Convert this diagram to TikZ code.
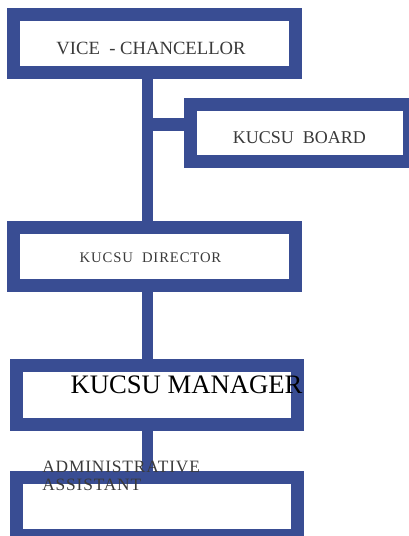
\documentclass[tikz,border=0pt]{standalone}
\usepackage{fontspec}
\setmainfont{Liberation Serif}
\usepackage{tikz}
\usetikzlibrary{calc}
\definecolor{xanhvien}{RGB}{57,77,147}
\definecolor{chuxam}{RGB}{58,58,58}
\tikzset{
	hop/.style={draw=xanhvien, line width=9.75pt, fill=white, inner sep=0pt},
	noi/.style={draw=xanhvien, line width=8.25pt},
	chu/.style={text=chuxam, inner sep=0pt, anchor=base}
}

\begin{document}
\begin{tikzpicture}[x=0.75pt, y=-0.75pt]
	\useasboundingbox (0,0) rectangle (408,536);
	\node[hop, minimum width=211.5pt, minimum height=43.5pt] (vc) at (154.5,43.5) {};
	\node[hop, minimum width=164.25pt, minimum height=42.75pt] (board) at (300,133) {};
	\node[hop, minimum width=211.5pt, minimum height=43.5pt] (director) at (154.5,256.5) {};
	\node[hop, minimum width=210.75pt, minimum height=44.25pt] (manager) at (157,395) {};
	\node[hop, minimum width=210.75pt, minimum height=43.5pt] (assistant) at (157,506.5) {};
	\coordinate (truc) at (147.5,0);
	\coordinate (re) at (147.5,124.5);
	\draw[noi] (vc.south -| truc) -- (director.north -| truc);
	\draw[noi, line width=9.75pt] (board.west |- re) -- (re);
	\draw[noi] (director.south -| truc) -- (manager.north -| truc);
	\draw[noi] (manager.south -| truc) -- (assistant.north -| truc);
	\node[chu, font=\fontsize{14}{16}\selectfont] (tvc) at (151,54) {VICE\ \ - CHANCELLOR};
	\node[chu, font=\fontsize{13.5}{16}\selectfont] (tboard) at (299.5,143) {KUCSU\ \ BOARD};
	\node[chu, font=\fontsize{11}{12}\selectfont\addfontfeatures{LetterSpace=6}] (tdirector) at (150.5,262) {KUCSU\ \ DIRECTOR};
	\node[chu, text=black, font=\fontsize{20}{24}\selectfont] (tmanager) at (186.5,393) {KUCSU MANAGER};
	\node[chu, anchor=base west, align=left, font=\fontsize{13}{13.5}\selectfont\addfontfeatures{LetterSpace=5}] (tassistant) at (42,490) {ADMINISTRATIVE\\ASSISTANT};
\end{tikzpicture}
\end{document}
